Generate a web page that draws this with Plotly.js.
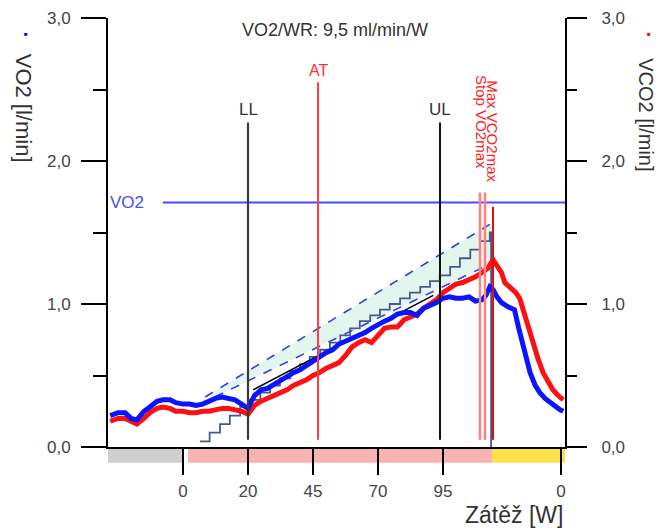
<!DOCTYPE html>
<html><head><meta charset="utf-8">
<script src="https://cdn.plot.ly/plotly-3.0.1.min.js"></script>
<style>html,body{margin:0;padding:0;background:#fff}#chart{width:660px;height:530px}</style>
</head><body><div id="chart"></div>
<script>
// time axis in minutes (0 = start of load); tick labels show load in W
const xTickVals = [0, 1, 2, 3, 4, 5.815];
const xTickText = ["0", "20", "45", "70", "95", "0"];
const yTickVals = [0, 1, 2, 3];
const yTickText = ["0,0", "1,0", "2,0", "3,0"];
const yMinorVals = [0.5, 1.5, 2.5];

const vo2Time = [-1.12,-1.0,-0.89,-0.8,-0.71,-0.6,-0.51,-0.4,-0.31,-0.2,-0.11,0,0.1,0.2,0.3,0.4,0.5,0.6,0.7,0.8,0.9,1.0,1.1,1.2,1.3,1.4,1.5,1.6,1.7,1.8,1.9,2.0,2.1,2.2,2.3,2.4,2.5,2.6,2.7,2.8,2.9,3.0,3.1,3.2,3.3,3.4,3.5,3.6,3.7,3.8,3.9,4.0,4.1,4.2,4.3,4.4,4.5,4.6,4.66,4.72,4.77,4.83,4.9,5.0,5.1,5.16,5.22,5.26,5.34,5.42,5.49,5.57,5.65,5.72,5.8,5.85];
const vo2 = [.22,.24,.24,.20,.19,.25,.28,.32,.33,.33,.31,.30,.30,.29,.30,.32,.34,.35,.34,.33,.30,.27,.36,.40,.41,.44,.47,.49,.52,.54,.57,.61,.63,.66,.68,.72,.74,.76,.78,.80,.83,.86,.88,.90,.93,.94,.94,.92,.97,.99,1.01,1.04,1.05,1.04,1.04,1.05,1.02,1.03,1.06,1.12,1.10,1.05,1.01,.98,.96,.84,.73,.68,.52,.43,.38,.34,.31,.28,.26,.25];

const vco2Time = [-1.12,-1.0,-0.89,-0.8,-0.71,-0.6,-0.51,-0.4,-0.31,-0.2,-0.11,0,0.1,0.2,0.3,0.4,0.5,0.6,0.7,0.8,0.9,1.0,1.1,1.2,1.3,1.4,1.5,1.6,1.7,1.8,1.9,2.0,2.1,2.2,2.3,2.4,2.5,2.6,2.7,2.8,2.9,3.0,3.1,3.2,3.3,3.4,3.5,3.6,3.7,3.8,3.9,4.0,4.1,4.2,4.3,4.4,4.5,4.6,4.69,4.77,4.83,4.9,4.95,5.03,5.12,5.18,5.23,5.31,5.38,5.46,5.54,5.62,5.69,5.77,5.85];
const vco2 = [.18,.20,.20,.18,.16,.20,.24,.27,.28,.27,.25,.25,.24,.24,.25,.25,.26,.27,.27,.26,.25,.23,.29,.32,.34,.36,.38,.40,.43,.45,.47,.50,.52,.55,.57,.59,.64,.70,.73,.75,.73,.78,.83,.84,.84,.89,.91,.93,.97,1.00,1.03,1.08,1.11,1.14,1.15,1.17,1.19,1.22,1.25,1.31,1.27,1.22,1.15,1.12,1.08,1.04,.96,.84,.73,.62,.52,.46,.40,.36,.33];

// expected VO2 from work rate (staircase)
const wrTime = [0.26,0.41,0.57,0.72,0.88,1.03,1.19,1.34,1.49,1.65,1.80,1.95,2.11,2.26,2.42,2.57,2.72,2.88,3.03,3.18,3.34,3.49,3.65,3.80,3.95,4.11,4.26,4.42,4.57,4.72,4.74];
const wrVO2 = [0.04,0.10,0.16,0.22,0.28,0.33,0.38,0.43,0.48,0.53,0.58,0.63,0.68,0.73,0.78,0.83,0.88,0.92,0.96,1.00,1.04,1.08,1.12,1.16,1.20,1.26,1.32,1.38,1.44,1.50,0];

// VO2/WR band (dashed limits)
const bandUpperTime = [0.34, 4.77];
const bandUpper = [0.35, 1.57];
const bandLowerTime = [0.49, 4.77];
const bandLower = [0.35, 1.29];

// regression line between LL and UL
const regTime = [1.08, 3.85];
const regVO2 = [0.40, 1.06];

// markers
const llTime = 1.0, ulTime = 3.954, atTime = 2.077;
const maxTimes = [4.569, 4.646];
const peakTime = 4.769;
const vo2Ref = 1.71;
const vo2RefStart = -0.31;

// phases (rest, load, recovery)
const phaseStart = [-1.1538, 0.077, 4.754];
const phaseEnd = [0, 4.754, 5.8769];
const phaseColor = ["#cfcfcf", "#f7b3b0", "#fde04a"];

const F = "Liberation Sans, Arial, sans-serif";

const traces = [
  {x: bandLowerTime, y: bandLower, mode: 'lines', line: {color: '#2e3cf0', width: 1.6, dash: 'dash'}, hoverinfo: 'skip'},
  {x: bandUpperTime, y: bandUpper, mode: 'lines', line: {color: '#2e3cf0', width: 1.6, dash: 'dash'}, fill: 'tonexty', fillcolor: 'rgba(200,238,222,0.5)', hoverinfo: 'skip'},
  {x: wrTime, y: wrVO2, mode: 'lines', line: {color: '#46588f', width: 1.8, shape: 'hv'}},
  {x: regTime, y: regVO2, mode: 'lines', line: {color: '#000', width: 1.5}},
  {x: vco2Time, y: vco2, mode: 'lines', line: {color: '#ff1010', width: 5}},
  {x: vo2Time, y: vo2, mode: 'lines', line: {color: '#0a14ff', width: 5}},
  {x: [vo2RefStart, 5.8769], y: [vo2Ref, vo2Ref], mode: 'lines', line: {color: '#4a4aff', width: 2}},
  {x: [llTime, llTime], y: [0.05, 2.27], mode: 'lines', line: {color: '#3a3a3a', width: 2.2}},
  {x: [ulTime, ulTime], y: [0.05, 2.27], mode: 'lines', line: {color: '#111', width: 2}},
  {x: [atTime, atTime], y: [0.05, 2.55], mode: 'lines', line: {color: '#ff4040', width: 2}},
  {x: [maxTimes[0], maxTimes[0]], y: [0.05, 1.78], mode: 'lines', line: {color: '#ff8080', width: 2.5}},
  {x: [maxTimes[1], maxTimes[1]], y: [0.05, 1.78], mode: 'lines', line: {color: '#ff8080', width: 2.5}},
  {x: [peakTime, peakTime], y: [0.05, 1.68], mode: 'lines', line: {color: '#e01010', width: 2}},
  {x: [], y: [], yaxis: 'y2', mode: 'lines'}
];

const axisCommon = {
  range: [0, 3], tickmode: 'array', tickvals: yTickVals, ticktext: yTickText,
  showline: true, linecolor: '#000', linewidth: 2, ticks: 'outside', tickwidth: 2, tickcolor: '#000',
  showgrid: false, zeroline: false, tickfont: {family: F, size: 17, color: '#444'}, fixedrange: true,
};

const shapes = phaseStart.map((s, i) => ({
  type: 'rect', xref: 'x', yref: 'paper', x0: s, x1: phaseEnd[i], y0: -0.037, y1: -0.002,
  fillcolor: phaseColor[i], line: {width: 0}, layer: 'below'
}));

const annotations = [
  {x: llTime, y: 2.36, xref: 'x', yref: 'y', text: 'LL', showarrow: false, font: {family: F, size: 17, color: '#333'}},
  {x: ulTime, y: 2.36, xref: 'x', yref: 'y', text: 'UL', showarrow: false, font: {family: F, size: 17, color: '#333'}},
  {x: atTime, y: 2.63, xref: 'x', yref: 'y', text: 'AT', showarrow: false, font: {family: F, size: 16, color: '#ff3030'}},
  {x: -0.86, y: vo2Ref, xref: 'x', yref: 'y', text: 'VO2', showarrow: false, font: {family: F, size: 17, color: '#4a4aff'}},
  {x: maxTimes[0] + 0.02, y: 2.27, xref: 'x', yref: 'y', xanchor: 'center', yanchor: 'middle', text: 'Stop VO2max', textangle: 90, showarrow: false, font: {family: F, size: 15, color: '#ff2020'}},
  {x: peakTime - 0.02, y: 2.21, xref: 'x', yref: 'y', xanchor: 'center', yanchor: 'middle', text: 'Max VCO2max', textangle: 90, showarrow: false, font: {family: F, size: 15, color: '#ff2020'}},
  {x: 1.0, y: -0.158, xref: 'paper', yref: 'paper', xanchor: 'right', yanchor: 'middle', text: 'Zátěž [W]', showarrow: false, font: {family: F, size: 23, color: '#333'}},
  {x: -0.183, y: 0.79, xref: 'paper', yref: 'paper', xanchor: 'center', yanchor: 'middle', text: 'VO2 [l/min]', textangle: 90, showarrow: false, font: {family: F, size: 22, color: '#333'}},
  {x: 1.178, y: 0.775, xref: 'paper', yref: 'paper', xanchor: 'center', yanchor: 'middle', text: 'VCO2 [l/min]', textangle: 90, showarrow: false, font: {family: F, size: 20, color: '#333'}},
  {x: -0.179, y: 0.962, xref: 'paper', yref: 'paper', xanchor: 'center', yanchor: 'middle', text: '■', showarrow: false, font: {family: F, size: 6, color: '#0000ff'}},
  {x: 1.184, y: 0.962, xref: 'paper', yref: 'paper', xanchor: 'center', yanchor: 'middle', text: '■', showarrow: false, font: {family: F, size: 6, color: '#ff0000'}}
];

const layout = {
  width: 660, height: 530, showlegend: false,
  paper_bgcolor: '#fff', plot_bgcolor: '#fff',
  margin: {l: 108, r: 95, t: 18, b: 83},
  title: {text: 'VO2/WR: 9,5 ml/min/W', x: 0.5076, xanchor: 'center', y: 1 - 30 / 530, yanchor: 'middle', font: {family: F, size: 18, color: '#333'}},
  xaxis: {
    range: [-1.1538, 5.8769], tickmode: 'array', tickvals: xTickVals, ticktext: xTickText,
    showline: true, linecolor: '#000', linewidth: 2, ticks: 'outside', ticklen: 26, tickwidth: 2, tickcolor: '#000',
    showgrid: false, zeroline: false, tickfont: {family: F, size: 17, color: '#444'}, ticklabelstandoff: 2, fixedrange: true
  },
  yaxis: Object.assign({}, axisCommon, {ticklen: 25, ticklabelstandoff: 7,
    minor: {tickmode: 'array', tickvals: yMinorVals, ticks: 'outside', ticklen: 13, tickwidth: 2, tickcolor: '#000', showgrid: false}}),
  yaxis2: Object.assign({}, axisCommon, {overlaying: 'y', side: 'right', ticklen: 20, ticklabelstandoff: 11,
    minor: {tickmode: 'array', tickvals: yMinorVals, ticks: 'outside', ticklen: 10, tickwidth: 2, tickcolor: '#000', showgrid: false}}),
  shapes: shapes,
  annotations: annotations
};

Plotly.newPlot('chart', traces, layout, {displayModeBar: false, staticPlot: true});
</script>
</body></html>
